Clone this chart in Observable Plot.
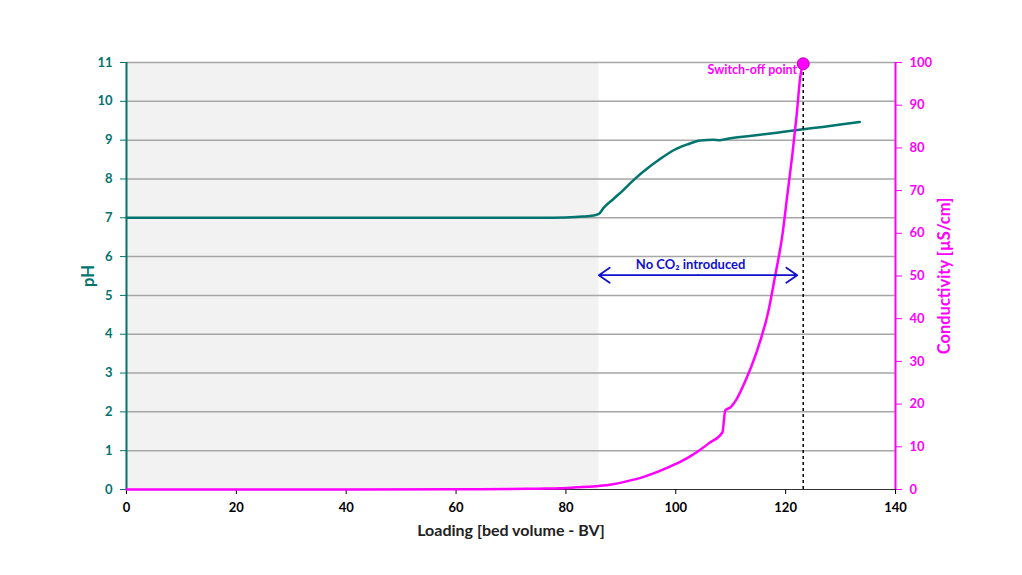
<!DOCTYPE html>
<html>
<head>
<meta charset="utf-8">
<script src="https://cdn.jsdelivr.net/npm/d3@7"></script>
<script src="https://cdn.jsdelivr.net/npm/@observablehq/plot@0.6"></script>
<style>
  body { margin: 0; background: #fff; }
  svg { font-family: Lato, "Open Sans", sans-serif; font-weight: bold; }
</style>
</head>
<body>
<div id="chart"></div>
<script>
// pH series
const phBV = [0, 20, 40, 60, 75, 80, 83, 85, 86, 86.9, 88.7, 90.5, 92.6, 94.8, 97.2, 99.6, 102.1, 104.5, 106.9, 108, 110, 115, 120, 125, 130, 133.5];
const phVal = [7, 7, 7, 7, 7, 7.01, 7.03, 7.06, 7.1, 7.26, 7.49, 7.72, 8.01, 8.27, 8.52, 8.74, 8.89, 8.99, 9.01, 9.0, 9.05, 9.13, 9.22, 9.31, 9.40, 9.47];
// Conductivity series (µS/cm)
const cBV = [0, 20, 40, 60, 70, 75, 79, 82, 85, 88, 91, 94, 97, 100, 102, 104, 106, 108.5, 109, 110, 111, 112.7, 114.5, 116.9, 118.1, 119.4, 120.3, 121.2, 122.0, 122.7, 123.2];
const cVal = [0, 0, 0, 0.05, 0.1, 0.2, 0.3, 0.5, 0.7, 1.1, 1.9, 2.9, 4.3, 6.0, 7.3, 8.9, 10.8, 13.4, 18.5, 19.3, 21, 25.5, 31.4, 42.0, 50.1, 59.5, 68.9, 78.2, 87.6, 97, 99.7];
// Ticks
const xTicks = [0, 20, 40, 60, 80, 100, 120, 140];
const phTicks = [0, 1, 2, 3, 4, 5, 6, 7, 8, 9, 10, 11];
const condTicks = [0, 10, 20, 30, 40, 50, 60, 70, 80, 90, 100];
// Annotations
const shadeEnd = 86;
const switchBV = 123.2;
const switchCond = 99.7;
const arrowFrom = 86;
const arrowTo = 122.1;
const arrowPH = 5.52;
const arrowTextBV = 102.7;
const arrowText = "No CO₂ introduced";
const switchText = "Switch-off point";

const TEAL = "#00756f";
const MAG = "#ff00ff";
const BLUE = "#1010d0";
const k = 11 / 100; // conductivity -> pH-axis units

const phData = phBV.map((x, i) => ({x, y: phVal[i]}));
const cData = cBV.map((x, i) => ({x, y: cVal[i] * k}));
const arrowMid = (arrowFrom + arrowTo) / 2;

const chart = Plot.plot({
  width: 1022,
  height: 575,
  marginLeft: 126,
  marginRight: 127,
  marginTop: 62,
  marginBottom: 86,
  style: {fontFamily: "Lato, 'Open Sans', sans-serif", fontWeight: "bold", fontSize: "13px", background: "#fff"},
  x: {domain: [0, 140]},
  y: {domain: [0, 11]},
  marks: [
    Plot.rect([{x1: 0, x2: shadeEnd, y1: 0, y2: 11}], {x1: "x1", x2: "x2", y1: "y1", y2: "y2", fill: "#f2f2f2"}),
    Plot.ruleY(phTicks.filter(d => d > 0), {stroke: "#a6a6a6", strokeWidth: 1.5}),
    Plot.ruleY([0], {stroke: "#333", strokeWidth: 1.2}),
    Plot.ruleX([0], {stroke: TEAL, strokeWidth: 2}),
    Plot.ruleX([140], {stroke: MAG, strokeWidth: 2}),
    Plot.axisX({ticks: xTicks, tickSize: 5, tickPadding: 8, stroke: "#000", fill: "#000", fontSize: 13,
      label: "Loading [bed volume - BV]", labelAnchor: "center", labelOffset: 46, labelArrow: "none"}),
    Plot.axisY({ticks: phTicks, tickSize: 6, tickPadding: 8, stroke: TEAL, fill: TEAL, fontSize: 13,
      label: "pH", labelAnchor: "center", labelOffset: 44, labelArrow: "none"}),
    Plot.axisY({anchor: "right", ticks: condTicks.map(d => d * k), tickFormat: d => String(Math.round(d / k)),
      tickSize: 6, tickPadding: 8, stroke: MAG, fill: MAG, fontSize: 13,
      label: "Conductivity [µS/cm]", labelAnchor: "center", labelOffset: 54, labelArrow: "none"}),
    Plot.line(phData, {x: "x", y: "y", stroke: TEAL, strokeWidth: 2.5, curve: "monotone-x"}),
    Plot.ruleX([switchBV], {y1: 0, y2: switchCond * k, stroke: "#000", strokeWidth: 1.5, strokeDasharray: "3,3"}),
    Plot.line(cData, {x: "x", y: "y", stroke: MAG, strokeWidth: 2.5, curve: "monotone-x"}),
    Plot.dot([{x: switchBV, y: switchCond * k}], {x: "x", y: "y", r: 6, fill: MAG, stroke: "#c000c0", strokeWidth: 1}),
    Plot.arrow([{x1: arrowMid, x2: arrowFrom, y: arrowPH}, {x1: arrowMid, x2: arrowTo, y: arrowPH}],
      {x1: "x1", x2: "x2", y1: "y", y2: "y", bend: 0, headLength: 11, headAngle: 70, stroke: BLUE, strokeWidth: 1.8}),
    Plot.text([{x: arrowTextBV, y: arrowPH}], {x: "x", y: "y", text: () => arrowText, dy: -10,
      fill: BLUE, fontSize: 13, fontWeight: "bold"}),
    Plot.text([{x: switchBV, y: switchCond * k}], {x: "x", y: "y", text: () => switchText, dx: -6, dy: 6,
      textAnchor: "end", fill: MAG, fontSize: 12.5, fontWeight: "bold"})
  ]
});
document.getElementById("chart").appendChild(chart);
// axis label styling
chart.querySelectorAll("[aria-label='x-axis label'] text").forEach(t => { t.setAttribute("font-size", "16"); t.setAttribute("fill", "#222"); });
chart.querySelectorAll("[aria-label='y-axis label'] text").forEach(t => t.setAttribute("font-size", "16.5"));
</script>
</body>
</html>
